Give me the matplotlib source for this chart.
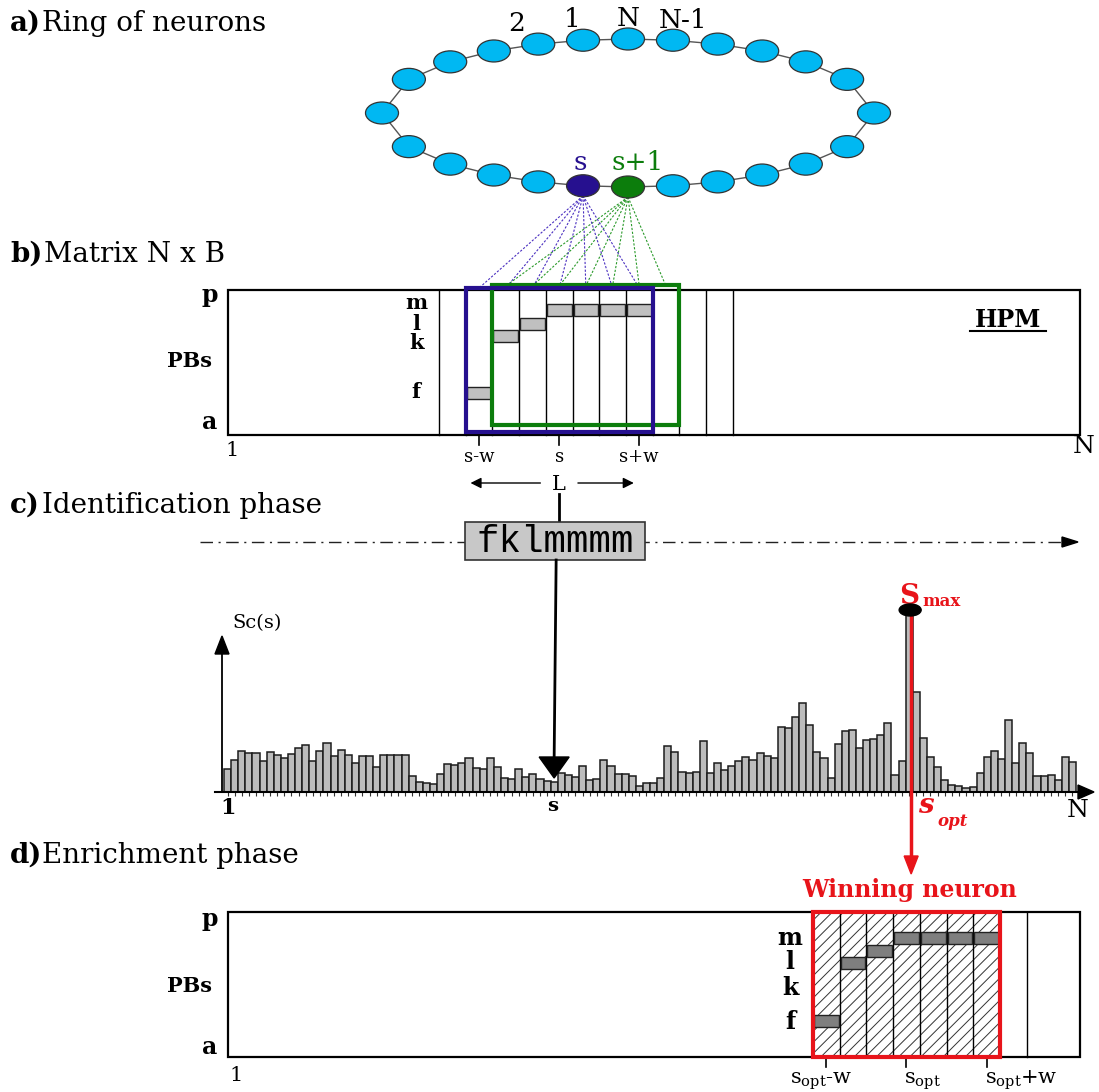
import numpy as np
import matplotlib.pyplot as plt
from matplotlib.patches import Ellipse, Rectangle, Polygon

plt.rcParams['font.family'] = ['DejaVu Serif']
plt.rcParams['mathtext.fontset'] = 'dejavuserif'
plt.rcParams['hatch.linewidth'] = 0.7

# ---- data ----
# Sc(s) score for each of the 120 neurons of the ring
scores = [23, 32, 41, 39, 39, 31, 40, 37, 34, 38, 44, 47, 31, 41, 49, 36, 42, 37, 29, 36,
          36, 25, 37, 37, 37, 37, 16, 10, 9, 8, 18, 28, 27, 29, 34, 24, 23, 34, 25, 14,
          13, 23, 15, 18, 13, 11, 10, 19, 17, 15, 26, 12, 13, 32, 26, 18, 18, 16, 6, 9,
          9, 14, 46, 40, 20, 19, 20, 51, 19, 29, 22, 26, 31, 35, 32, 39, 36, 34, 65, 64,
          75, 89, 67, 40, 34, 14, 48, 61, 62, 44, 52, 53, 57, 69, 17, 31, 182, 100, 54, 35,
          25, 12, 7, 6, 4, 5, 19, 35, 41, 33, 72, 29, 49, 39, 16, 16, 17, 12, 35, 30]
s_index = 46      # neuron s
smax_index = 96   # winning neuron s_opt

n_ring = 24
ring_labels = ['N', '1', '2']          # going round from the top
ring_label_right = 'N-1'
s_node = 11                            # position of s on the drawn ring

window = 'fklmmmm'
pb_row = {'a': 0, 'f': 5, 'k': 10, 'l': 11, 'm': 12, 'p': 15}
rows_b = [pb_row[c] for c in window]
rows_d = [5, 11, 11.5, 12, 12, 12, 12]  # profile after enrichment

# ---- layout (pixels, y down) ----
W, H = 1099, 1092
fig = plt.figure(figsize=(W / 100, H / 100), dpi=100)
ax = fig.add_axes([0, 0, 1, 1])
ax.set_xlim(0, W)
ax.set_ylim(H, 0)
ax.axis('off')

BLUE = '#26108f'
GREEN = '#0c7d0c'
RED = '#e8141a'


def txt(x, y, s, size, weight='normal', color='black', ha='left', **kw):
    ax.text(x, y, s, fontsize=size, fontweight=weight, color=color,
            ha=ha, va='baseline', **kw)


# headings
txt(10, 31, 'a)', 20, 'bold')
txt(42, 31, 'Ring of neurons', 20)
txt(10, 262, 'b)', 20, 'bold')
txt(44, 262, 'Matrix N x B', 20)
txt(10, 513, 'c)', 20, 'bold')
txt(42, 513, 'Identification phase', 20)
txt(10, 863, 'd)', 20, 'bold')
txt(42, 863, 'Enrichment phase', 20)

# ---- a) ring of neurons, nodes equally spaced along an ellipse ----
cx, cy, ra, rb = 628, 113, 246, 74
t = np.linspace(np.pi / 2, np.pi / 2 + 2 * np.pi, 4000)
ex, ey = ra * np.cos(t), rb * np.sin(t)
arc = np.concatenate([[0], np.cumsum(np.hypot(np.diff(ex), np.diff(ey)))])
# start at the top and go anticlockwise on screen (towards the left)
theta = np.interp(np.arange(n_ring) * arc[-1] / n_ring, arc, t)
nx = cx + ra * np.cos(theta)
ny = cy - rb * np.sin(theta)
ax.plot(np.append(nx, nx[0]), np.append(ny, ny[0]), color='#555555', lw=1, zorder=1)
for i in range(n_ring):
    fc = '#00b8f2'
    if i == s_node:
        fc = BLUE
    elif i == s_node + 1:
        fc = GREEN
    ax.add_patch(Ellipse((nx[i], ny[i]), 33, 22, facecolor=fc, edgecolor='#333333',
                         lw=0.9, zorder=2))
for i, lab in enumerate(ring_labels):
    txt(nx[i] - 11 * i, ny[i] - 13, lab, 19, ha='center')
txt(nx[-1] + 10, ny[-1] - 12, ring_label_right, 19, ha='center')
txt(nx[s_node] - 3, 170, 's', 19, color=BLUE, ha='center')
txt(nx[s_node + 1] + 10, 170, 's+1', 19, color=GREEN, ha='center')

# ---- b) matrix N x B ----
mx0, mx1 = 228, 1080
by0, by1 = 290, 435
cw = 26.7
col0 = 439
ax.add_patch(Rectangle((mx0, by0), mx1 - mx0, by1 - by0, fill=False, lw=1.6, zorder=3))
for k in range(12):
    ax.plot([col0 + k * cw] * 2, [by0, by1], color='black', lw=1, zorder=3)
win0 = col0 + cw  # first column of the window (s-w)
yb = np.interp(rows_b, [5, 10, 11, 12], [393, 336, 323.5, 310])
for j, yy in enumerate(yb):
    ax.add_patch(Rectangle((win0 + j * cw + 1, yy - 6), cw - 2, 12, facecolor='#c0c0c0',
                           edgecolor='#222222', lw=1, zorder=4))
# dashed links from s and s+1
for j in range(7):
    ax.plot([nx[s_node], win0 + (j + 0.5) * cw], [ny[s_node] + 10, by0 - 2],
            color='#4a2fc0', lw=0.8, ls=(0, (2, 1.5)), zorder=1)
    ax.plot([nx[s_node + 1], win0 + (j + 1.5) * cw], [ny[s_node + 1] + 10, by0 - 4],
            color='#2a9a2a', lw=0.8, ls=(0, (2, 1.5)), zorder=1)
ax.add_patch(Rectangle((win0 + cw, by0 - 5), 7 * cw, by1 - by0 - 5, fill=False,
                       edgecolor=GREEN, lw=3, zorder=5))
ax.add_patch(Rectangle((win0, by0 - 2), 7 * cw, by1 - by0 - 1, fill=False,
                       edgecolor=BLUE, lw=3, zorder=6))

txt(218, 302, 'p', 17, 'bold', ha='right')
txt(217, 429, 'a', 17, 'bold', ha='right')
txt(212, 367, 'PBs', 15, 'bold', ha='right')
for c, yy in zip(['m', 'l', 'k', 'f'], [309, 330, 349, 398]):
    txt(416, yy, c, 15, 'bold', ha='center')
txt(1008, 327, 'HPM', 17, 'bold', ha='center')
ax.plot([970, 1046], [331, 331], color='black', lw=1.5)
txt(232, 456, '1', 15, ha='center')
txt(1084, 453, 'N', 18, ha='center')
for j, lab in zip([0, 3, 6], ['s-w', 's', 's+w']):
    xx = win0 + (j + 0.5) * cw
    ax.plot([xx, xx], [by1, by1 + 10], color='black', lw=1.2)
    txt(xx, 462, lab, 13, ha='center')

# L arrows
lx = win0 + 3.5 * cw
txt(lx, 490, 'L', 15, ha='center')
ax.annotate('', xy=(win0 + 2, 483), xytext=(lx - 16, 483),
            arrowprops=dict(arrowstyle='-|>', color='black', lw=1, mutation_scale=16))
ax.annotate('', xy=(win0 + 6.4 * cw, 483), xytext=(lx + 16, 483),
            arrowprops=dict(arrowstyle='-|>', color='black', lw=1, mutation_scale=16))
ax.plot([lx, lx], [494, 522], color='black', lw=2)

# ---- c) identification phase ----
ax.plot([200, 1062], [542, 542], color='#222222', lw=1, ls=(0, (9, 4, 1.5, 4)), zorder=1)
ax.add_patch(Polygon([[1062, 537], [1062, 547], [1078, 542]], closed=True,
                     color='black', zorder=2))
ax.add_patch(Rectangle((465, 522), 180, 38, facecolor='#c8c8c8', edgecolor='#333333',
                       lw=1.2, zorder=3))
ax.text(555, 542, window, fontsize=27, family='Liberation Mono', ha='center',
        va='center', zorder=4)

# histogram of scores
base = 792
bw = 7.1
hx0 = 224
bx = hx0 + np.arange(len(scores)) * bw
ax.bar(bx, -np.array(scores), bottom=base, width=bw, align='edge',
       color='#bcbcbc', edgecolor='#1c1c1c', lw=1.1, zorder=2)
ax.vlines(bx + bw / 2, base, base + 4, color='#333333', lw=0.8, zorder=2)
ax.plot([215, 1080], [base, base], color='black', lw=1.5, zorder=3)
ax.add_patch(Polygon([[1078, 785], [1078, 799], [1094, 792]], closed=True,
                     color='black', zorder=3))
ax.plot([222, 222], [base, 652], color='black', lw=1.3, zorder=3)
ax.add_patch(Polygon([[215, 654], [229, 654], [222, 636]], closed=True,
                     color='black', zorder=3))
txt(232, 628, 'Sc(s)', 14)
txt(228, 814, '1', 16, 'bold', ha='center')
sx = bx[s_index] + bw / 2
txt(sx - 2, 811, 's', 14, 'bold', ha='center')
txt(1078, 817, 'N', 18, ha='center')

# arrow from the fragment down to s
ax.plot([sx + 2, sx], [560, 758], color='black', lw=2, zorder=4)
ax.add_patch(Polygon([[sx - 15, 757], [sx + 15, 757], [sx, 778]], closed=True,
                     color='black', zorder=4))

# S_max and s_opt
ox = bx[smax_index] + bw / 2 + 2
ax.plot([ox, ox], [610, 858], color=RED, lw=2.5, zorder=5)
ax.add_patch(Polygon([[ox - 7, 856], [ox + 7, 856], [ox, 874]], closed=True,
                     color=RED, zorder=5))
ax.add_patch(Ellipse((ox - 1, 610), 22, 12, color='black', zorder=6))
txt(899, 604, 'S', 20, 'bold', color=RED)
txt(922, 606, 'max', 12, 'bold', color=RED)
txt(918, 813, 's', 20, 'bold', color=RED, style='italic')
txt(937, 826, 'opt', 12, 'bold', color=RED, style='italic')

# ---- d) enrichment phase ----
dy0, dy1 = 912, 1057
dcol0 = 813
txt(910, 897, 'Winning neuron', 17, 'bold', color=RED, ha='center')
ax.add_patch(Rectangle((mx0, dy0), mx1 - mx0, dy1 - dy0, fill=False, lw=1.6, zorder=3))
ax.add_patch(Rectangle((dcol0, dy0), 7 * cw, dy1 - dy0, fill=False, hatch='///',
                       edgecolor='#333333', lw=0, zorder=2))
for k in list(range(1, 7)) + [8]:
    ax.plot([dcol0 + k * cw] * 2, [dy0, dy1], color='black', lw=1, zorder=3)
yd = np.interp(rows_d, [5, 10, 11, 12], [1021, 988, 963, 938])
for j, yy in enumerate(yd):
    ax.add_patch(Rectangle((dcol0 + j * cw + 1, yy - 6), cw - 2, 12, facecolor='#7f7f7f',
                           edgecolor='#222222', lw=1, zorder=4))
ax.add_patch(Rectangle((dcol0, dy0), 7 * cw, dy1 - dy0, fill=False, edgecolor=RED,
                       lw=3, zorder=5))
txt(218, 926, 'p', 17, 'bold', ha='right')
txt(217, 1054, 'a', 17, 'bold', ha='right')
txt(212, 992, 'PBs', 15, 'bold', ha='right')
for c, yy in zip(['m', 'l', 'k', 'f'], [945, 969, 995, 1029]):
    txt(790, yy, c, 17, 'bold', ha='center')
txt(236, 1081, '1', 15, ha='center')
for j, lab, lx0 in zip([0, 3, 6], [r's$_{\mathrm{opt}}$-w', r's$_{\mathrm{opt}}$',
                                   r's$_{\mathrm{opt}}$+w'], [790, 904, 985]):
    xx = dcol0 + (j + 0.5) * cw
    ax.plot([xx, xx], [dy1, dy1 + 10], color='black', lw=1.2)
    txt(lx0, 1084, lab, 15)

fig.savefig('out.png', dpi=100)
